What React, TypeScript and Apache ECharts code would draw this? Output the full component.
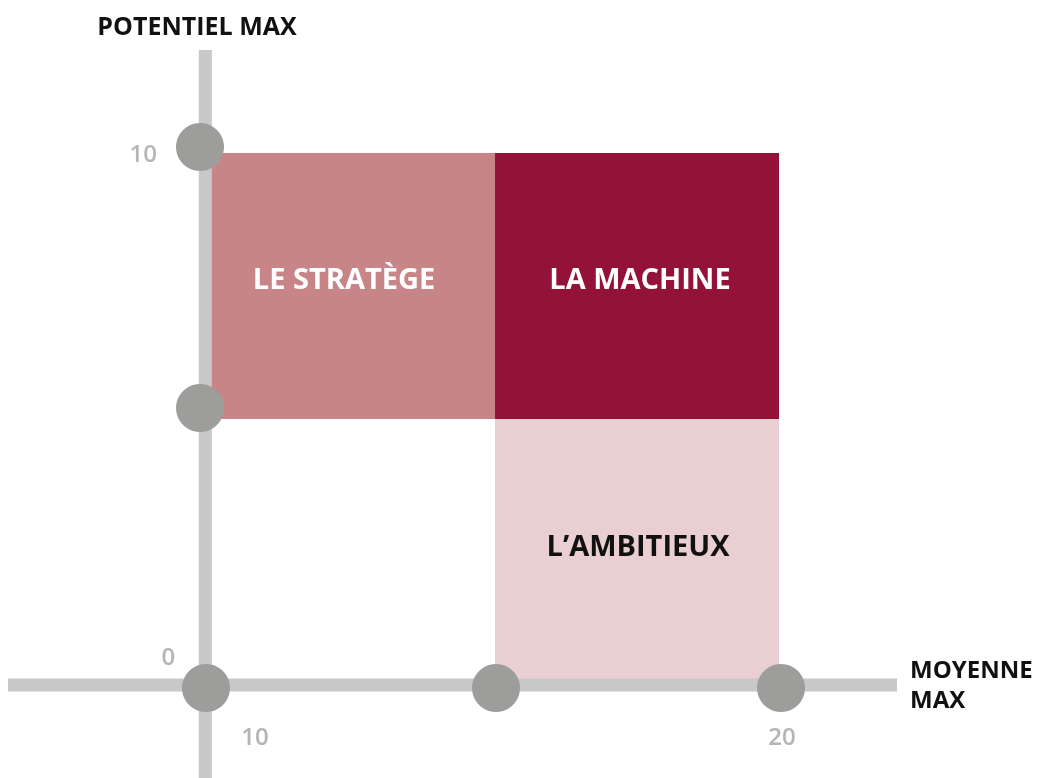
import React, { useEffect, useRef } from "react";
import * as echarts from "echarts";

// ---- Data ----
const quadrantNames = ["LE STRATÈGE", "LA MACHINE", "L’AMBITIEUX"];
const quadrantXFrom = [10, 15, 15];
const quadrantXTo = [15, 20, 20];
const quadrantYFrom = [5, 5, 0];
const quadrantYTo = [10, 10, 5];

const markerX = [10, 10, 10, 15, 20];
const markerY = [10, 5, 0, 0, 0];

const xTickValues = [10, 20];
const yTickValues = [0, 10];

const yAxisTitle = "POTENTIEL MAX";
const xAxisTitleLines = ["MOYENNE", "MAX"];

const axisCrossX = 9.9; // x value where the vertical axis bar sits
const axisCrossY = 0;
const xMin = 6.426;
const xMax = 22.077;
const yMin = -1.748;
const yMax = 11.936;

// ---- Styles ----
const quadrantFills = ["#c78588", "#941237", "#e9cfd1"];
const quadrantTextColors = ["#ffffff", "#ffffff", "#111111"];
const quadrantTextDx = [-9, 3, 1];
const markerOffsets = [
  [-11, -6],
  [-11, -11],
  [-5, 3],
  [1, 3],
  [2, 3],
];
const FONT = "'Open Sans', 'Lato', sans-serif";

export default function App() {
  const ref = useRef<HTMLDivElement>(null);

  useEffect(() => {
    if (!ref.current) return;
    const chart = echarts.init(ref.current, null, { renderer: "svg" });

    const quadData = quadrantNames.map((n, i) => [
      quadrantXFrom[i],
      quadrantXTo[i],
      quadrantYFrom[i],
      quadrantYTo[i],
      i,
    ]);

    const yTickData = yTickValues.map((v, i) => ({
      value: [axisCrossX, v],
      label: {
        formatter: String(v),
        offset: i === 0 ? [-37, -30] : [-62, 0],
      },
    }));
    const xTickData = xTickValues.map((v, i) => ({
      value: [v, axisCrossY],
      label: {
        formatter: String(v),
        offset: i === 0 ? [44, 50] : [3, 50],
      },
    }));

    const axisBarStyle = { color: "#c8c8c8", width: 13, type: "solid", cap: "butt" };

    const titleText = (text: string, x: number, y: number, size: number, align: string) => ({
      type: "text",
      x,
      y,
      style: {
        text,
        fill: "#111111",
        font: `700 ${size}px ${FONT}`,
        textAlign: align,
        textVerticalAlign: "middle",
        align,
        verticalAlign: "middle",
      },
    });

    const option: any = {
      animation: false,
      grid: { left: 8, right: 142, top: 50, bottom: 0 },
      xAxis: { type: "value", min: xMin, max: xMax, show: false },
      yAxis: { type: "value", min: yMin, max: yMax, show: false },
      graphic: [
        titleText(yAxisTitle, 197, 25, 25, "center"),
        ...xAxisTitleLines.map((t, i) => titleText(t, 910, 668 + i * 30, 24, "left")),
      ],
      series: [
        {
          type: "custom",
          z: 1,
          silent: true,
          data: quadData,
          renderItem: (params: any, api: any) => {
            const x0 = api.value(0);
            const x1 = api.value(1);
            const y0 = api.value(2);
            const y1 = api.value(3);
            const idx = api.value(4);
            const p0 = api.coord([x0, y1]);
            const p1 = api.coord([x1, y0]);
            const cx = (p0[0] + p1[0]) / 2 + quadrantTextDx[idx];
            const cy = (p0[1] + p1[1]) / 2 - 8;
            return {
              type: "group",
              children: [
                {
                  type: "rect",
                  shape: {
                    x: p0[0],
                    y: p0[1],
                    width: p1[0] - p0[0],
                    height: p1[1] - p0[1],
                  },
                  style: { fill: quadrantFills[idx] },
                },
                {
                  type: "text",
                  style: {
                    text: quadrantNames[idx],
                    x: cx,
                    y: cy,
                    fill: quadrantTextColors[idx],
                    font: `700 29px ${FONT}`,
                    textAlign: "center",
                    textVerticalAlign: "middle",
                    align: "center",
                    verticalAlign: "middle",
                  },
                },
              ],
            };
          },
        },
        {
          type: "line",
          z: 2,
          silent: true,
          symbol: "none",
          lineStyle: axisBarStyle,
          data: [
            [axisCrossX, yMin],
            [axisCrossX, yMax],
          ],
        },
        {
          type: "line",
          z: 2,
          silent: true,
          symbol: "none",
          lineStyle: axisBarStyle,
          data: [
            [xMin, axisCrossY],
            [xMax, axisCrossY],
          ],
        },
        {
          type: "scatter",
          z: 3,
          silent: true,
          symbolSize: 48,
          itemStyle: { color: "#9d9d9b", opacity: 1 },
          data: markerX.map((x, i) => ({
            value: [x, markerY[i]],
            symbolOffset: markerOffsets[i],
          })),
        },
        {
          type: "scatter",
          z: 4,
          silent: true,
          symbolSize: 1,
          itemStyle: { color: "rgba(0,0,0,0)" },
          label: {
            show: true,
            position: "inside",
            color: "#a3a3a3",
            fontFamily: FONT,
            fontWeight: 600,
            fontSize: 24,
          },
          data: [...yTickData, ...xTickData],
        },
      ],
    };

    chart.setOption(option);
    return () => chart.dispose();
  }, []);

  return (
    <div
      ref={ref}
      style={{ position: "fixed", left: 0, top: 0, width: 1039, height: 778 }}
    />
  );
}
